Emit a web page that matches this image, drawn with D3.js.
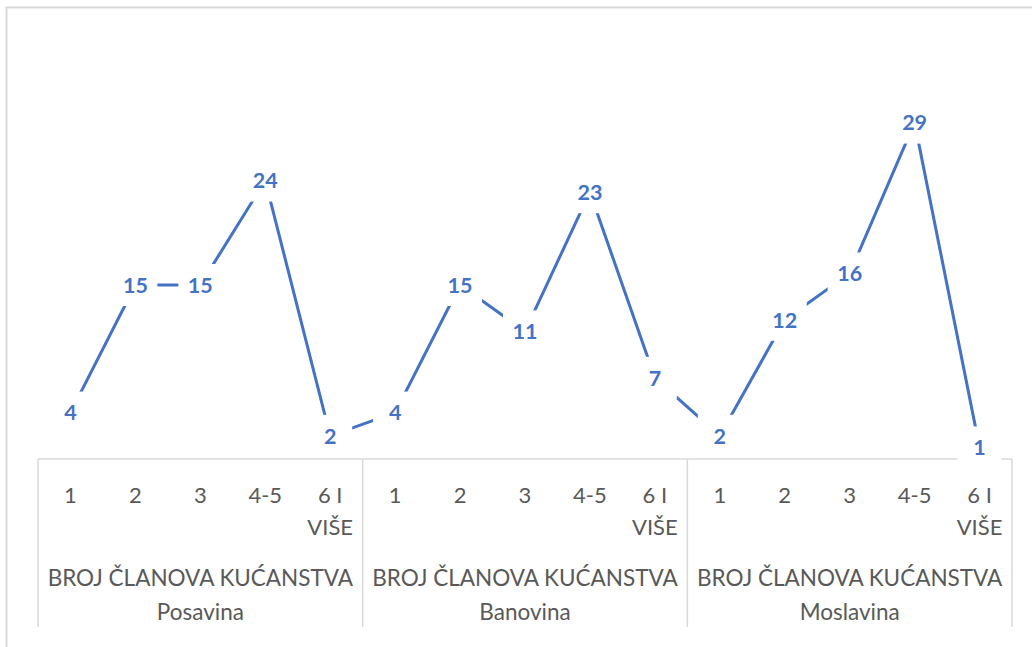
<!DOCTYPE html>
<html>
<head>
<meta charset="utf-8">
<script src="https://cdn.jsdelivr.net/npm/d3@7"></script>
<style>
  body { margin: 0; background: #fff; }
  svg { display: block; }
</style>
</head>
<body>
<div id="chart"></div>
<script>
// data
var groups = ["Posavina", "Banovina", "Moslavina"];
var groupTitle = "BROJ ČLANOVA KUĆANSTVA";
var categories = ["1", "2", "3", "4-5", "6 I VIŠE"];
var posavina = [4, 15, 15, 24, 2];
var banovina = [4, 15, 11, 23, 7];
var moslavina = [2, 12, 16, 29, 1];

var width = 1032, height = 647;
var blue = "#4472C4", grid = "#d9d9d9", txt = "#595959";
var font = "Lato, 'Open Sans', sans-serif";

// flatten to one series of 15 points
var seriesByGroup = [posavina, banovina, moslavina];
var points = [];
groups.forEach(function (g, gi) {
    categories.forEach(function (c, ci) {
        points.push({ key: g + "|" + c, group: g, cat: c, value: seriesByGroup[gi][ci] });
    });
});

var svg = d3.select("#chart").append("svg")
    .attr("width", width)
    .attr("height", height);

// chart border (only top and left show in the picture)
svg.append("path")
    .attr("d", "M6.5,647 L6.5,7.5 L1032,7.5")
    .attr("fill", "none")
    .attr("stroke", grid)
    .attr("stroke-width", 2);

var x = d3.scaleBand()
    .domain(points.map(function (d) { return d.key; }))
    .range([38, 1012])
    .padding(0);

var y = d3.scaleLinear()
    .domain([0, 35])
    .range([459, 53]);

var groupX = d3.scaleBand()
    .domain(groups)
    .range([38, 1012]);

function cx(d) { return x(d.key) + x.bandwidth() / 2; }

// category axis: base line + group separators
var axis = svg.append("g");
axis.append("line")
    .attr("x1", 38).attr("x2", 1012)
    .attr("y1", y(0)).attr("y2", y(0))
    .attr("stroke", grid).attr("stroke-width", 1.5);

var seps = groups.map(function (g) { return groupX(g); }).concat([groupX.range()[1]]);
axis.selectAll(".sep")
    .data(seps)
    .enter().append("line")
    .attr("class", "sep")
    .attr("x1", function (d) { return d; })
    .attr("x2", function (d) { return d; })
    .attr("y1", y(0))
    .attr("y2", 627)
    .attr("stroke", grid)
    .attr("stroke-width", 1.5);

// tick labels (wrapped for "6 I VIŠE")
var ticks = axis.selectAll(".tick")
    .data(points)
    .enter().append("text")
    .attr("class", "tick")
    .attr("text-anchor", "middle")
    .attr("font-family", font)
    .attr("font-size", 22)
    .attr("fill", txt);

ticks.each(function (d) {
    var lines = d.cat == "6 I VIŠE" ? ["6 I", "VIŠE"] : [d.cat];
    var t = d3.select(this);
    lines.forEach(function (l, i) {
        t.append("tspan")
            .attr("x", cx(d))
            .attr("y", 503 + i * 32)
            .text(l);
    });
});

// group labels
var glab = axis.selectAll(".glab")
    .data(groups)
    .enter().append("text")
    .attr("class", "glab")
    .attr("text-anchor", "middle")
    .attr("font-family", font)
    .attr("font-size", 22.5)
    .attr("fill", txt);

glab.append("tspan")
    .attr("x", function (g) { return groupX(g) + groupX.bandwidth() / 2; })
    .attr("y", 586)
    .text(groupTitle);

glab.append("tspan")
    .attr("x", function (g) { return groupX(g) + groupX.bandwidth() / 2; })
    .attr("y", 620)
    .text(function (g) { return g; });

// the line
var line = d3.line()
    .x(cx)
    .y(function (d) { return y(d.value); });

svg.append("path")
    .datum(points)
    .attr("d", line)
    .attr("fill", "none")
    .attr("stroke", blue)
    .attr("stroke-width", 3)
    .attr("stroke-linejoin", "round");

// data labels, centred on the points with white boxes behind
var labels = svg.selectAll(".lbl")
    .data(points)
    .enter().append("g")
    .attr("class", "lbl")
    .attr("transform", function (d) {
        return "translate(" + cx(d) + "," + y(d.value) + ")";
    });

labels.append("rect")
    .attr("x", -22)
    .attr("y", -21)
    .attr("width", 44)
    .attr("height", 42)
    .attr("fill", "#fff");

labels.append("text")
    .attr("text-anchor", "middle")
    .attr("dy", "0.36em")
    .attr("font-family", font)
    .attr("font-weight", "bold")
    .attr("font-size", 21.5)
    .attr("fill", blue)
    .text(function (d) { return d.value; });
</script>
</body>
</html>
